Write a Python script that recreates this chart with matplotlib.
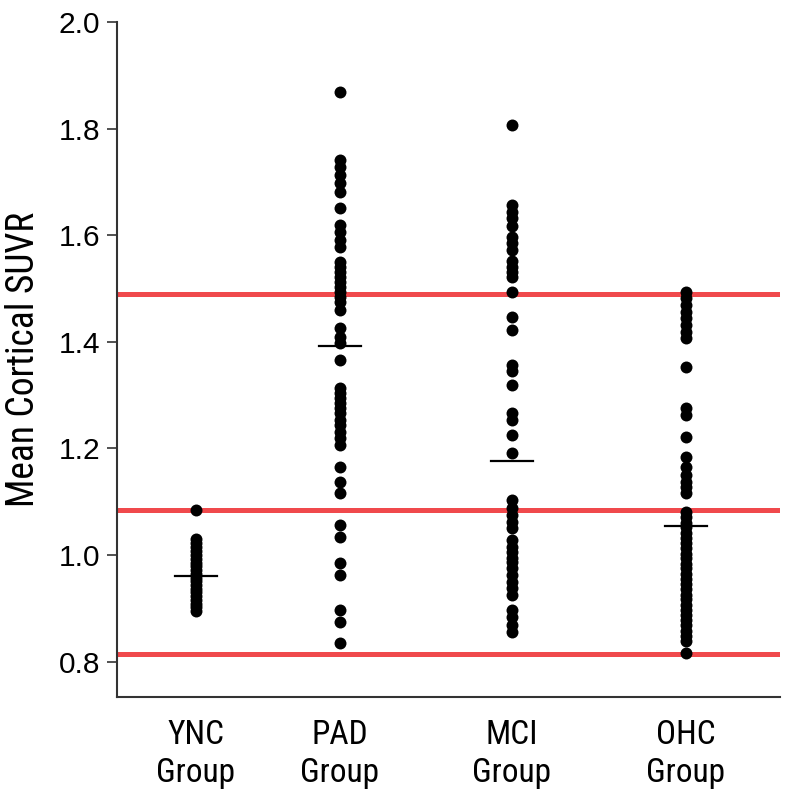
import numpy as np
import matplotlib
matplotlib.use('Agg')
import matplotlib.pyplot as plt
from matplotlib import font_manager

# group labels and their x positions on the axis (0..5)
groups = ['YNC\nGroup', 'PAD\nGroup', 'MCI\nGroup', 'OHC\nGroup']
x_pos = [0.596, 1.682, 2.979, 4.291]

# mean cortical SUVR per subject
ync = [1.085, 1.030, 1.022, 1.015, 1.008, 1.000, 0.993, 0.986, 0.979, 0.972,
       0.965, 0.958, 0.951, 0.944, 0.937, 0.930, 0.923, 0.916, 0.909, 0.902, 0.895]
pad = [1.869, 1.741, 1.728, 1.713, 1.698, 1.681, 1.651, 1.619, 1.606, 1.591,
       1.578, 1.550, 1.541, 1.531, 1.522, 1.513, 1.503, 1.494, 1.484, 1.475,
       1.460, 1.426, 1.409, 1.398, 1.366, 1.314, 1.304, 1.295, 1.286, 1.276,
       1.267, 1.254, 1.244, 1.231, 1.220, 1.207, 1.166, 1.138, 1.117, 1.057,
       1.034, 0.986, 0.963, 0.898, 0.875, 0.836]
mci = [1.807, 1.657, 1.644, 1.632, 1.617, 1.597, 1.586, 1.572, 1.552, 1.541,
       1.531, 1.522, 1.494, 1.447, 1.423, 1.357, 1.345, 1.319, 1.267, 1.254,
       1.226, 1.192, 1.104, 1.089, 1.075, 1.062, 1.051, 1.029, 1.016, 1.006,
       0.995, 0.988, 0.976, 0.963, 0.950, 0.939, 0.926, 0.898, 0.883, 0.869, 0.856]
ohc = [1.494, 1.483, 1.469, 1.456, 1.445, 1.432, 1.419, 1.408, 1.353, 1.276,
       1.263, 1.222, 1.184, 1.165, 1.151, 1.138, 1.128, 1.117, 1.081, 1.071,
       1.061, 1.052, 1.042, 1.032, 1.023, 1.013, 1.003, 0.994, 0.984, 0.975,
       0.965, 0.955, 0.946, 0.936, 0.926, 0.917, 0.907, 0.897, 0.888, 0.878,
       0.868, 0.858, 0.848, 0.838, 0.817]
group_means = [0.961, 1.393, 1.177, 1.055]

# reference thresholds (red lines)
thresholds = [1.490, 1.085, 0.815]

yticks = [0.8, 1.0, 1.2, 1.4, 1.6, 1.8, 2.0]

# pick a condensed face if one is installed, else Roboto
installed = {f.name for f in font_manager.fontManager.ttflist}
cond = [n for n in ['Roboto Condensed', 'Liberation Sans Narrow', 'Open Sans Condensed',
                    'Noto Sans Condensed', 'DejaVu Sans Condensed'] if n in installed]
narrow = (cond[:1] or ['Roboto']) + ['DejaVu Sans']

fig = plt.figure(figsize=(7.94, 8.02), dpi=100)
ax = fig.add_axes([0.147, 0.131, 0.835, 0.8416])

for t in thresholds:
    ax.axhline(t, color='#f0494c', lw=3.6, zorder=1)

for xp, vals, m in zip(x_pos, [ync, pad, mci, ohc], group_means):
    ax.scatter(np.full(len(vals), xp), vals, s=74, color='black', lw=0, zorder=3)
    ax.plot([xp - 0.158, xp + 0.158], [m, m], color='black', lw=1.6, zorder=4)

ax.set_xlim(0, 5)
ax.set_ylim(0.734, 2.0)
ax.set_yticks(yticks)
ax.set_yticklabels([f'{v:.1f}' for v in yticks], fontsize=21.5, family=['Liberation Sans', 'DejaVu Sans'])
ax.set_xticks(x_pos)
ax.set_xticklabels(groups, fontsize=24, family=narrow, linespacing=1.22)
ax.tick_params(axis='x', length=0, pad=16)
ax.tick_params(axis='y', length=7, width=1.2, color='#333333', pad=5)
ax.set_ylabel('Mean Cortical SUVR', fontsize=27, family=narrow, labelpad=12)

for side in ['top', 'right']:
    ax.spines[side].set_visible(False)
for side in ['left', 'bottom']:
    ax.spines[side].set_color('#333333')
    ax.spines[side].set_linewidth(1.5)

fig.savefig('out.png', dpi=100)
